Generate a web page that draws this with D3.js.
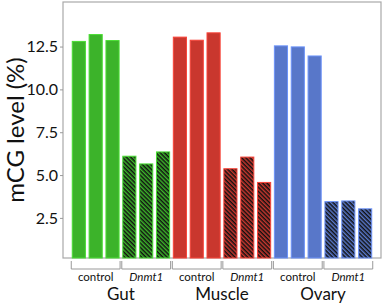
<!DOCTYPE html>
<html lang="en">
<head>
  <meta charset="UTF-8">
  <title>mCG level</title>
  <style>
    body { margin: 0; background: #fff; }
    text { font-family: Lato, "Open Sans", sans-serif; fill: #111; }
    .tick text { font-size: 16px; }
    .sub { font-size: 11.5px; text-anchor: middle; }
    .grp { font-size: 17px; text-anchor: middle; }
  </style>
</head>
<body>
  <svg width="383" height="305"></svg>
  <script src="https://cdn.jsdelivr.net/npm/d3@7"></script>
  <script>
    // data
    var tissues = ['Gut', 'Muscle', 'Ovary']
    var conditions = ['control', 'Dnmt1']
    var gutControl = [12.8, 13.2, 12.85]
    var gutDnmt1 = [6.1, 5.65, 6.35]
    var muscleControl = [13.05, 12.87, 13.3]
    var muscleDnmt1 = [5.37, 6.05, 4.57]
    var ovaryControl = [12.54, 12.48, 11.95]
    var ovaryDnmt1 = [3.45, 3.49, 3.03]
    var yTicks = [2.5, 5.0, 7.5, 10.0, 12.5]
    var colors = ['#3cb32a', '#c9372e', '#5877c9']

    var series = [
      [gutControl, gutDnmt1],
      [muscleControl, muscleDnmt1],
      [ovaryControl, ovaryDnmt1]
    ]

    var bars = []
    series.forEach(function(s, t) {
      s.forEach(function(vals, c) {
        vals.forEach(function(v, r) {
          bars.push({ tissue: t, cond: c, rep: r, value: v, key: t + '-' + c + '-' + r })
        })
      })
    })

    var svg = d3.select('svg')
    var pL = 63, pR = 381, pT = 2, pB = 258

    var x = d3.scaleBand()
      .domain(bars.map(function(d) { return d.key }))
      .range([pL, pR])
      .paddingInner(0.22)
      .paddingOuter(0.55)

    var y = d3.scaleLinear()
      .domain([0.16, 15.1])
      .range([pB, pT])

    // hatch patterns for the Dnmt1 bars
    var defs = svg.append('defs')
    colors.forEach(function(col, i) {
      var p = defs.append('pattern')
        .attr('id', 'hatch' + i)
        .attr('patternUnits', 'userSpaceOnUse')
        .attr('width', 3)
        .attr('height', 3)
        .attr('patternTransform', 'rotate(45)')
      p.append('rect').attr('width', 3).attr('height', 3).attr('fill', col)
      p.append('rect').attr('width', 3).attr('height', 1.5).attr('fill', '#111')
    })

    // frame
    svg.append('rect')
      .attr('x', pL).attr('y', pT)
      .attr('width', pR - pL).attr('height', pB - pT)
      .attr('fill', 'none')
      .attr('stroke', '#a9a9a9')
      .attr('stroke-width', 1.2)

    svg.selectAll('.bar')
      .data(bars)
      .enter()
      .append('rect')
      .attr('class', 'bar')
      .attr('x', function(d) { return x(d.key) })
      .attr('width', x.bandwidth())
      .attr('y', function(d) { return y(d.value) })
      .attr('height', function(d) { return pB - y(d.value) })
      .attr('fill', function(d) {
        return d.cond === 0 ? colors[d.tissue] : 'url(#hatch' + d.tissue + ')'
      })
      .attr('stroke', function(d) { return d3.color(colors[d.tissue]).brighter(0.6) })
      .attr('stroke-width', 1)

    var yAxis = svg.append('g')
      .attr('transform', 'translate(' + pL + ',0)')
      .call(d3.axisLeft(y).tickValues(yTicks).tickFormat(d3.format('.1f')).tickSize(3).tickPadding(2))
    yAxis.select('.domain').remove()
    yAxis.selectAll('.tick line').attr('stroke', '#999')

    svg.append('text')
      .attr('transform', 'translate(24,' + 130 + ') rotate(-90)')
      .attr('text-anchor', 'middle')
      .style('font-size', '24px')
      .text('mCG level (%)')

    // brackets and labels under each group
    var groups = []
    tissues.forEach(function(t, ti) {
      conditions.forEach(function(c, ci) {
        groups.push({ tissue: ti, cond: ci, label: c })
      })
    })

    var g = svg.selectAll('.grpb')
      .data(groups)
      .enter()
      .append('g')
      .attr('class', 'grpb')

    g.append('path')
      .attr('d', function(d) {
        var x0 = x(d.tissue + '-' + d.cond + '-0') - 1
        var x1 = x(d.tissue + '-' + d.cond + '-2') + x.bandwidth() + 1
        return 'M' + x0 + ',' + (pB + 3) + 'V' + (pB + 11) + 'H' + x1 + 'V' + (pB + 3)
      })
      .attr('fill', 'none')
      .attr('stroke', '#999')
      .attr('stroke-width', 1)

    g.append('text')
      .attr('class', 'sub')
      .attr('x', function(d) { return x(d.tissue + '-' + d.cond + '-1') + x.bandwidth() / 2 })
      .attr('y', pB + 23)
      .style('font-style', function(d) { return d.cond === 1 ? 'italic' : 'normal' })
      .text(function(d) { return d.label })

    svg.selectAll('.grp')
      .data(tissues)
      .enter()
      .append('text')
      .attr('class', 'grp')
      .attr('x', function(d, i) {
        var a = x(i + '-0-0'), b = x(i + '-1-2') + x.bandwidth()
        return (a + b) / 2
      })
      .attr('y', pB + 42)
      .text(function(d) { return d })
  </script>
</body>
</html>
